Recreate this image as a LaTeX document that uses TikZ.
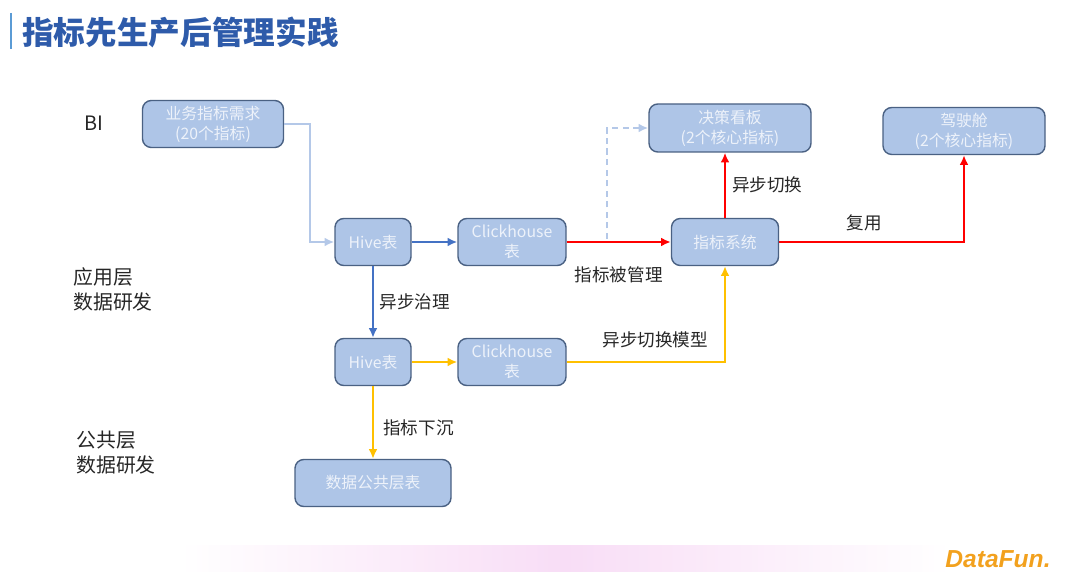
\documentclass[tikz,border=0pt]{standalone}
\usepackage{fontspec}
\setmainfont{Noto Sans CJK SC}
\newfontfamily\logofont{Liberation Sans}
\usetikzlibrary{positioning, arrows.meta, calc}

\definecolor{boxfill}{HTML}{AEC5E7}
\definecolor{boxline}{HTML}{4A6183}
\definecolor{boxtext}{HTML}{EDF2FA}
\definecolor{paleblue}{HTML}{B4C8E8}
\definecolor{midblue}{HTML}{4472C4}
\definecolor{flowred}{HTML}{FF0000}
\definecolor{flowgold}{HTML}{FFC000}
\definecolor{titleblue}{HTML}{2E5BAA}
\definecolor{barblue}{HTML}{5B9BD5}
\definecolor{labelgray}{HTML}{262626}
\definecolor{bandpink}{HTML}{F8DDF6}
\definecolor{logoorange}{HTML}{F2A11E}

\begin{document}
\begin{tikzpicture}[node distance=2cm, on grid, auto,
    box/.style={draw=boxline, line width=0.8pt, fill=boxfill, rounded corners=5pt, text=boxtext,
      font=\fontsize{9}{11.3}\selectfont, align=center, minimum height=0.94cm, inner sep=1pt},
    lbl/.style={text=labelgray, font=\fontsize{10}{12}\selectfont},
    side/.style={text=labelgray, font=\fontsize{11.3}{14}\selectfont, align=left, anchor=west, inner sep=0pt},
    tip/.style={-{Latex[length=5.5pt,width=5pt]}}]
			\useasboundingbox (0,0) rectangle (21.6,-11.44);
			
			% title and footer
			\draw[barblue, line width=1.2pt] (0.22,-0.26) -- (0.22,-0.98);
			\node[anchor=west, inner sep=0pt, text=titleblue, font=\fontsize{18}{22}\selectfont\bfseries] (title) at (0.44,-0.64) {指标先生产后管理实践};
			\shade[left color=white, right color=white, middle color=bandpink] (3.6,-10.9) rectangle (19.0,-11.44);
			\node[anchor=west, inner sep=0pt, text=logoorange, font=\logofont\bfseries\itshape\fontsize{14}{16}\selectfont] (logo) at (18.9,-11.18) {DataFun.};
			
			% layers
			\node[side] (bi) at (1.68,-2.46) {BI};
			\node[side] (app) at (1.46,-5.79) {应用层\\数据研发};
			\node[side] (pub) at (1.52,-9.05) {公共层\\数据研发};
			
			\node[box, minimum width=2.82cm] (need) at (4.26,-2.48) {业务指标需求\\(20个指标)};
			\node[box, minimum width=1.52cm] (hiveA) at (7.46,-4.84) {Hive表};
			\node[box, minimum width=2.16cm] (clickA) [right=2.78cm of hiveA] {Clickhouse\\表};
			\node[box, minimum width=2.14cm] (metric) [right=4.26cm of clickA] {指标系统};
			\node[box, minimum width=3.24cm, minimum height=0.96cm] (board) at (14.60,-2.56) {决策看板\\(2个核心指标)};
			\node[box, minimum width=3.24cm] (cockpit) at (19.28,-2.62) {驾驶舱\\(2个核心指标)};
			\node[box, minimum width=1.52cm] (hiveB) [below=2.4cm of hiveA] {Hive表};
			\node[box, minimum width=2.16cm] (clickB) [below=2.4cm of clickA] {Clickhouse\\表};
			\node[box, minimum width=3.12cm] (common) [below=2.42cm of hiveB] {数据公共层表};
			
			\coordinate (tap) at ($(clickA.east)!0.39!(metric.west) + (0,0.06)$);
			
			\draw[tip, paleblue, line width=1.2pt] (need.east) -- ++(0.52,0) |- (hiveA.west);
			\draw[tip, paleblue, line width=1.1pt, dash pattern=on 3.5pt off 2.5pt] (tap) |- (board.west);
			
			\path[tip, line width=1.1pt]
			(hiveA) edge[midblue] (clickA)
			(hiveA) edge[midblue] node[lbl, right] {异步治理} (hiveB)
			(hiveB) edge[flowgold] (clickB)
			(hiveB) edge[flowgold] node[lbl, right=2pt, pos=0.58] {指标下沉} (common)
			(clickA) edge[flowred, line width=1.4pt] node[lbl, below=0.36cm] {指标被管理} (metric)
			(metric) edge[flowred, line width=1.4pt] node[lbl, right] {异步切换} (metric.north |- board.south);
			
			\draw[tip, flowred, line width=1.4pt] (metric.east) -| node[lbl, above=2.5pt, pos=0.23] {复用} (cockpit.south);
			\draw[tip, flowgold, line width=1.2pt] (clickB.east) -| node[lbl, above=4pt, pos=0.28] {异步切换模型} (metric.south);
			
		\end{tikzpicture}
\end{document}
